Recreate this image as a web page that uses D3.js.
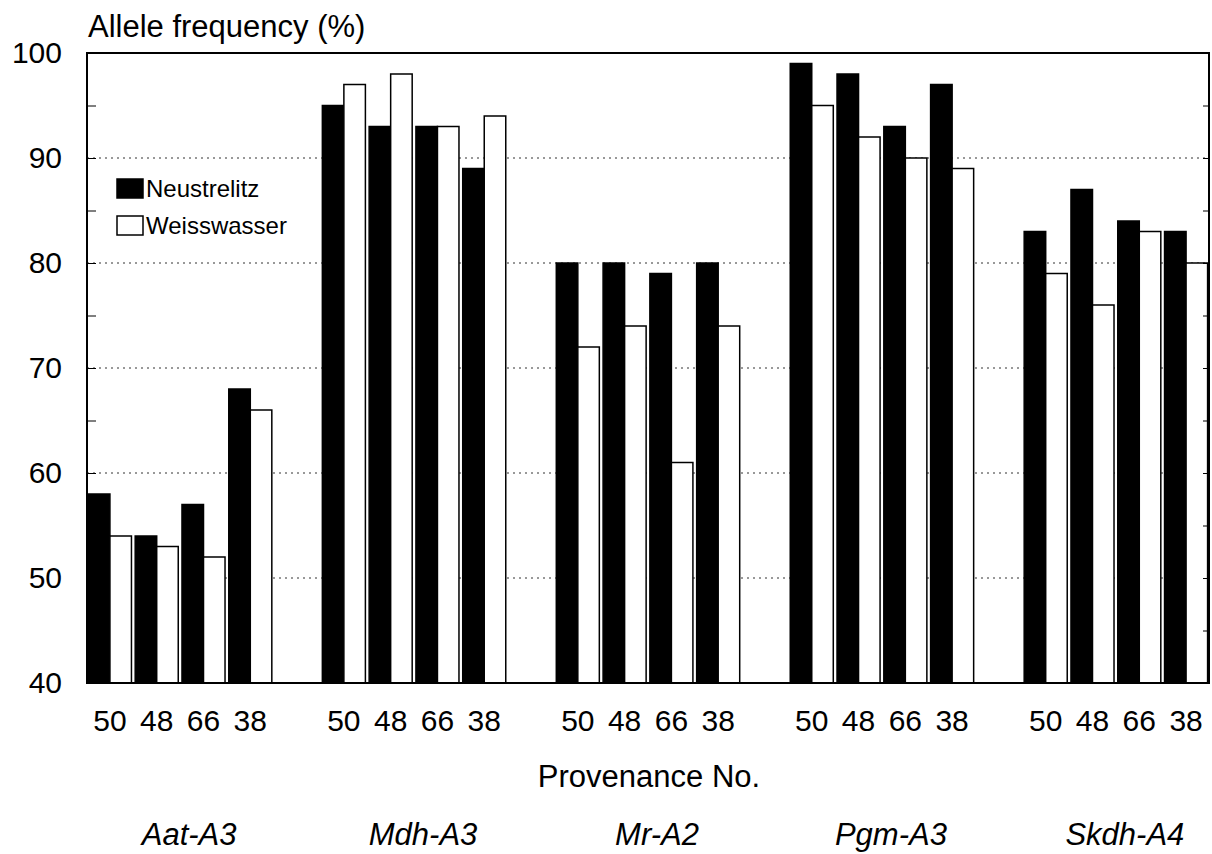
<!DOCTYPE html>
<html>
<head>
<meta charset="utf-8">
<script src="https://cdn.jsdelivr.net/npm/d3@7"></script>
<style>
  body { margin: 0; background: #fff; }
  text { font-family: "Liberation Sans", Arial, sans-serif; fill: #000; }
</style>
</head>
<body>
<svg width="1212" height="854"></svg>
<script>
var loci = ['Aat-A3', 'Mdh-A3', 'Mr-A2', 'Pgm-A3', 'Skdh-A4'];
var provenances = ['50', '48', '66', '38'];
var series = ['Neustrelitz', 'Weisswasser'];

// values per locus, in provenance order
var neustrelitz = [
    [58, 54, 57, 68],
    [95, 93, 93, 89],
    [80, 80, 79, 80],
    [99, 98, 93, 97],
    [83, 87, 84, 83]
];
var weisswasser = [
    [54, 53, 52, 66],
    [97, 98, 93, 94],
    [72, 74, 61, 74],
    [95, 92, 90, 89],
    [79, 76, 83, 80]
];
var yTicks = [40, 50, 60, 70, 80, 90, 100];

var svg = d3.select('svg');
var mLeft = 87, mTop = 53, width = 1122, height = 630;

// one slot per provenance, with an empty slot between loci
var slots = [];
loci.forEach(function(l, i){
    provenances.forEach(function(p){ slots.push(l + '|' + p); });
    if (i < loci.length - 1) slots.push('gap' + i);
});

var rows = [];
loci.forEach(function(l, i){
    provenances.forEach(function(p, j){
        rows.push({locus: l, prov: p, key: l + '|' + p,
                   values: [neustrelitz[i][j], weisswasser[i][j]]});
    });
});

var x = d3.scaleBand()
    .domain(slots)
    .range([mLeft, mLeft + width])
    .paddingInner(0.08)
    .paddingOuter(0.03);

var xSub = d3.scaleBand()
    .domain(series)
    .range([0, x.bandwidth()]);

var y = d3.scaleLinear()
    .domain([40, 100])
    .range([mTop + height, mTop]);

var g = svg.append('g');

// dotted gridlines
g.selectAll('line.grid')
    .data([50, 60, 70, 80, 90])
    .enter()
    .append('line')
    .attr('x1', mLeft)
    .attr('x2', mLeft + width)
    .attr('y1', function(d){ return y(d); })
    .attr('y2', function(d){ return y(d); })
    .attr('stroke', '#333')
    .attr('stroke-width', 1)
    .attr('stroke-dasharray', '2,4');

// bars
var pair = g.selectAll('g.pair')
    .data(rows)
    .enter()
    .append('g')
    .attr('transform', function(d){ return 'translate(' + x(d.key) + ',0)'; });

pair.selectAll('rect')
    .data(function(d){
        return d.values.map(function(v, k){ return {s: series[k], v: v}; });
    })
    .enter()
    .append('rect')
    .attr('x', function(d){ return xSub(d.s); })
    .attr('width', xSub.bandwidth())
    .attr('y', function(d){ return y(d.v); })
    .attr('height', function(d){ return y(40) - y(d.v); })
    .attr('fill', function(d){ return d.s === 'Neustrelitz' ? '#000' : '#fff'; })
    .attr('stroke', '#000')
    .attr('stroke-width', 1.5);

// frame
g.append('rect')
    .attr('x', mLeft)
    .attr('y', mTop)
    .attr('width', width)
    .attr('height', height)
    .attr('fill', 'none')
    .attr('stroke', '#000')
    .attr('stroke-width', 2);

// y axis: ticks inside, labels on the left
var yAxis = d3.axisRight(y)
    .tickValues(d3.range(40, 101, 5))
    .tickSize(9)
    .tickFormat('');
g.append('g')
    .attr('transform', 'translate(' + mLeft + ',0)')
    .call(yAxis)
    .call(function(s){ s.select('.domain').remove(); });

var yAxisR = d3.axisLeft(y)
    .tickValues(d3.range(40, 101, 5))
    .tickSize(6)
    .tickFormat('');
g.append('g')
    .attr('transform', 'translate(' + (mLeft + width) + ',0)')
    .call(yAxisR)
    .call(function(s){ s.select('.domain').remove(); });

g.selectAll('text.ylab')
    .data(yTicks)
    .enter()
    .append('text')
    .attr('x', 62)
    .attr('y', function(d){ return y(d) + 10; })
    .attr('text-anchor', 'end')
    .style('font-size', '30px')
    .text(function(d){ return d; });

svg.append('text')
    .attr('x', 88)
    .attr('y', 37)
    .style('font-size', '31px')
    .text('Allele frequency (%)');

// provenance labels
g.selectAll('text.xlab')
    .data(rows)
    .enter()
    .append('text')
    .attr('x', function(d){ return x(d.key) + x.bandwidth() / 2; })
    .attr('y', 731)
    .attr('text-anchor', 'middle')
    .style('font-size', '30px')
    .text(function(d){ return d.prov; });

svg.append('text')
    .attr('x', 649)
    .attr('y', 787)
    .attr('text-anchor', 'middle')
    .style('font-size', '31px')
    .text('Provenance No.');

// locus labels
svg.selectAll('text.locus')
    .data(loci)
    .enter()
    .append('text')
    .attr('x', function(d){
        var a = x(d + '|50'), b = x(d + '|38') + x.bandwidth();
        return (a + b) / 2 + 9;
    })
    .attr('y', 845)
    .attr('text-anchor', 'middle')
    .style('font-size', '31px')
    .style('font-style', 'italic')
    .text(function(d){ return d; });

// legend
var legend = svg.append('g')
    .attr('transform', 'translate(117,179)');

var item = legend.selectAll('g')
    .data(series)
    .enter()
    .append('g')
    .attr('transform', function(d, i){ return 'translate(0,' + (i * 37) + ')'; });

item.append('rect')
    .attr('width', 26)
    .attr('height', 19)
    .attr('fill', function(d, i){ return i === 0 ? '#000' : '#fff'; })
    .attr('stroke', '#000')
    .attr('stroke-width', 1.5);

item.append('text')
    .attr('x', 29)
    .attr('y', 18)
    .style('font-size', '24px')
    .text(function(d){ return d; });
</script>
</body>
</html>
